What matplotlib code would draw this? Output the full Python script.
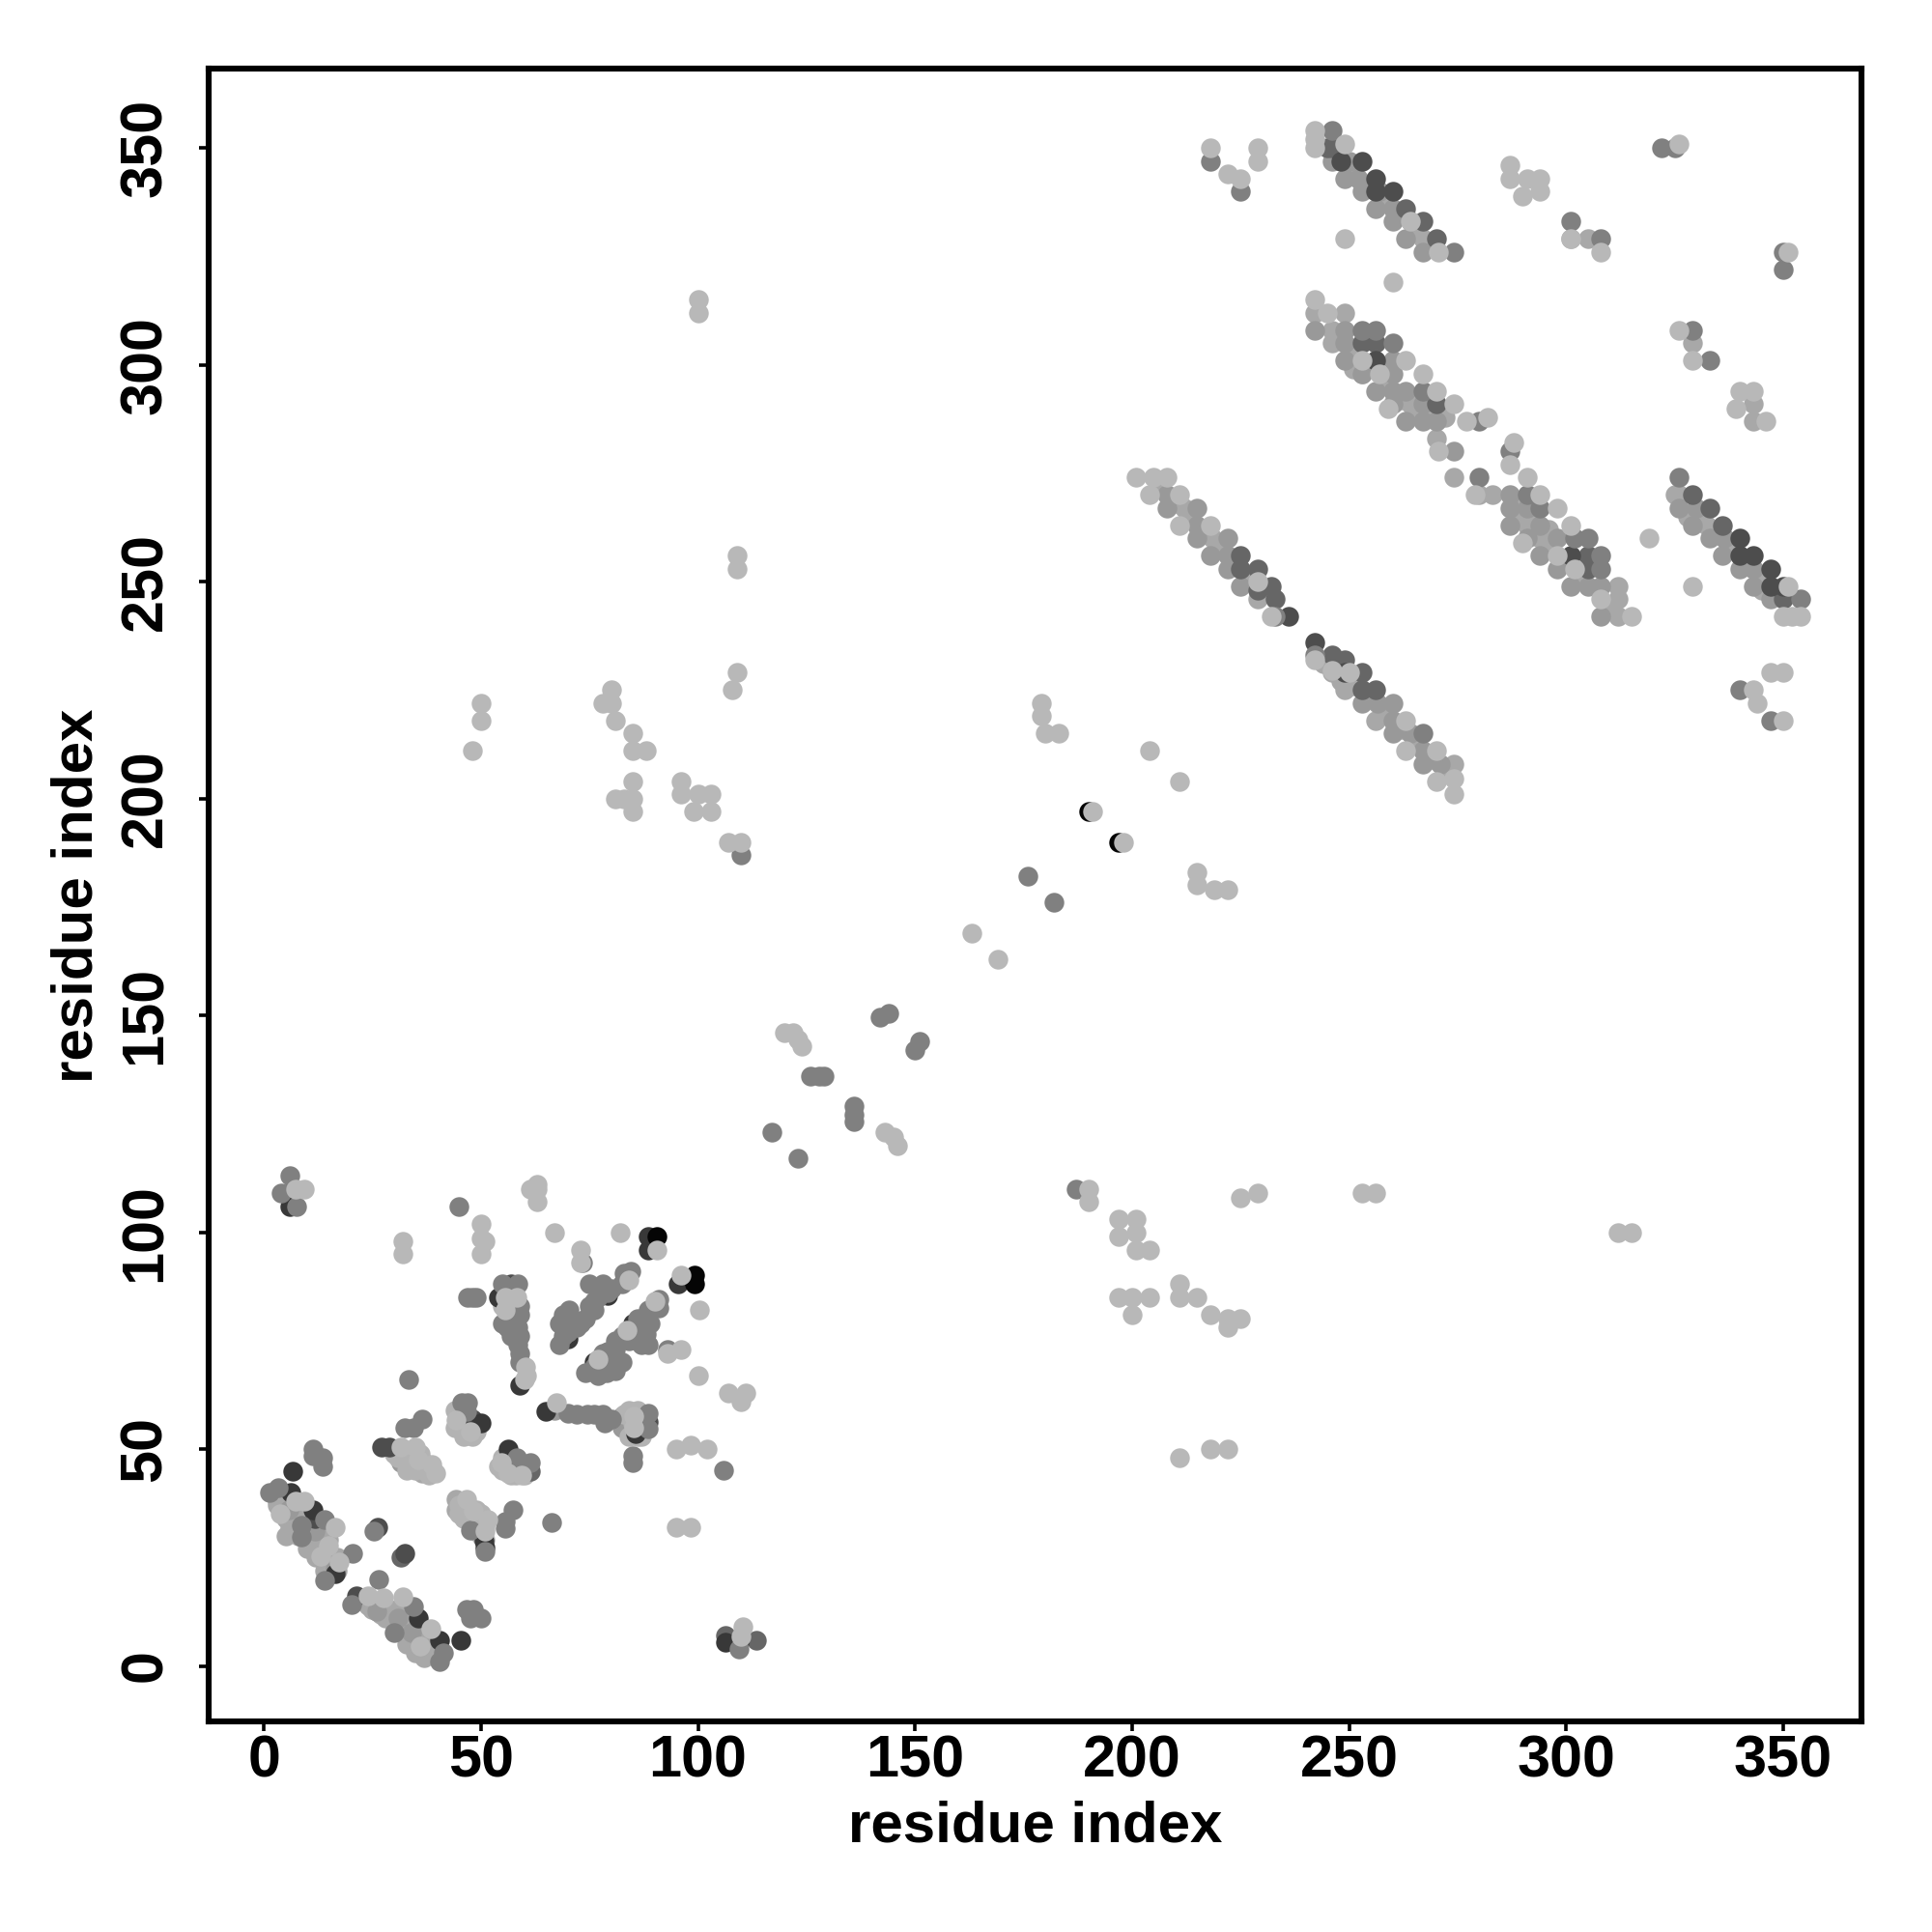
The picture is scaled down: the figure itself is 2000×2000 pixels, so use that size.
import numpy as np
import matplotlib
matplotlib.use('Agg')
import matplotlib.pyplot as plt

plt.rcParams['font.family'] = ['Liberation Sans', 'DejaVu Sans']

# contacts, (residue, residue), grouped by grey level
black_pts = [(90.5, 99), (99.3, 90), (99.3, 88), (190, 197), (197, 190)]

dark2_pts = [(6, 109), (6, 106), (6.6, 44.8), (6.3, 40), (11.3, 36), (16.5, 21.3), (35.6, 11), (40.4, 6),
             (45.3, 5.8), (88.5, 99), (88.5, 96), (95.5, 88), (106.3, 5.5), (109.4, 5.5), (50, 56), (50.7, 28.9),
             (51, 27.3), (65, 58.7), (59, 64.7), (76, 70), (70, 75.4), (79.3, 85.4), (54, 85), (85, 79),
             (85.7, 53.5), (56.3, 50)]

dark3_pts = [(27.2, 50.4), (29, 50.4), (26.3, 32), (32.4, 26), (11.7, 34), (21.3, 16.2), (57, 88), (59.4, 46.4),
             (88.5, 56.3), (48, 57), (236, 242), (242, 236), (347, 253), (347, 249), (253, 347), (248, 347),
             (256, 343), (256, 340), (260, 340), (340, 260), (340, 256), (343, 256), (256, 301), (301, 256),
             (350, 249), (249, 229)]

dark4_pts = [(245, 350), (246, 350), (263, 336), (267, 333), (270, 329), (253, 305), (256, 305), (270, 291),
             (305, 253), (305, 256), (329, 270), (333, 267), (336, 263), (350, 246), (225, 256), (225, 253),
             (229, 253), (232, 249), (233, 246), (246, 233), (249, 232), (253, 229), (253, 225), (256, 225),
             (113.4, 6), (106.3, 7), (31.5, 25), (61.4, 44.8), (229, 248)]

mid_pts = [(246, 354), (274, 326), (322, 350), (325, 350), (301, 333), (308, 329), (350, 326), (350, 322),
           (329, 308), (333, 301), (253, 308), (256, 308), (260, 305), (267, 294), (280, 287), (287, 280),
           (280, 274), (291, 270), (294, 267), (302, 260), (305, 260), (308, 256), (308, 253), (326, 274),
           (354, 246), (218, 347), (225, 340), (340, 225), (347, 218), (233, 242), (242, 233), (267, 215),
           (110, 187), (176, 182), (182, 176), (187, 110), (117, 123), (123, 117), (126, 136), (128, 136),
           (129, 136), (136, 129), (136, 127), (136, 125.5), (142, 149.5), (144, 150.5), (150, 142), (151, 144),
           (6, 113), (4, 109), (7.5, 106), (45, 106), (73.5, 93), (47, 85), (48, 85), (49, 85), (93, 73),
           (85, 48.5), (85, 47), (106, 45), (66.3, 33), (55, 88), (58.6, 88), (58, 82), (56, 78), (58.6, 78),
           (57, 76), (58.5, 74), (59, 70), (70.4, 82), (75, 88), (78, 88), (77, 85), (79.3, 86), (76, 82),
           (82.5, 88), (83, 90.5), (84.5, 91), (68, 79), (71, 78.6), (73, 79), (68, 74), (91, 84.5),
           (88.5, 82), (91, 82.6), (86.5, 78.6), (82.5, 76), (88, 76.6), (88.5, 74), (79.3, 72.6), (82.5, 70),
           (78.5, 70), (74, 67.5), (79, 67.5), (70, 58.3), (74.5, 58), (78, 58), (78.5, 56), (88.5, 58.3),
           (88.5, 54.7), (45.5, 60.7), (47, 60.7), (46.7, 58.7), (58.3, 48), (61.4, 46.8), (32.4, 55), (34.4, 55),
           (36.4, 57), (33.4, 66), (47.5, 31.3), (51, 26.5), (55.5, 33.3), (55.5, 31.7), (57.4, 36), (25.4, 31),
           (20.5, 26), (26.5, 20), (14, 19.7), (11.3, 50), (13.5, 48), (13.5, 46), (11.3, 48.4), (1.4, 40),
           (3.4, 41), (14, 33.7), (8.6, 29.7), (20.3, 14.2), (34.4, 13.8), (30, 7.8), (41.3, 3), (40.4, 1),
           (46.7, 13), (48.3, 13), (47.5, 11), (50, 11), (109.4, 4), (8.6, 32.5),
           # dense patches around residues 55-90
           (56, 84), (57, 82), (57, 80), (59, 83), (59, 81), (58, 80), (59, 76), (57, 77), (55, 79), (59, 72),
           (71, 80), (72, 78), (70, 77), (69, 76), (74, 80), (77, 87), (75, 83),
           (76, 84), (80, 87), (69, 81),
           (81, 75), (84, 75), (86, 75), (87, 74), (80, 69), (78, 72), (76, 69), (81, 68), (77, 67),
           (89, 79), (88, 80), (86, 80), (81, 73), (87, 77),
           (80, 57), (76, 58), (72, 58)]

grey_pts = [(250, 347), (246, 347), (249, 343), (252, 343), (253, 340), (257, 340), (256, 336), (260, 336),
            (260, 333), (263, 329), (267, 326), (242, 308), (249, 308), (249, 305), (249, 301), (260, 301),
            (253, 298), (260, 298), (256, 294), (260, 294), (263, 294), (260, 291), (267, 291), (263, 287),
            (267, 287), (270, 287), (274, 280), (287, 270), (287, 267), (291, 267), (287, 263), (294, 263),
            (291, 260), (298, 260), (294, 256), (298, 253), (301, 249), (305, 249), (308, 249), (308, 242),
            (326, 267), (330, 267), (329, 263), (333, 260), (336.5, 260), (336, 256), (340, 253), (343, 253),
            (343, 249), (347, 246), (208, 270), (208, 267), (215, 267), (215, 263), (215, 260), (222, 260),
            (218, 256), (222, 256), (222, 253), (225, 249), (253, 222), (256.5, 222), (260, 222), (260, 218),
            (260, 215), (264, 215), (267, 211), (267, 208), (271, 208), (5.8, 36), (11.7, 31), (16.5, 22.5),
            (26, 12.6), (30.8, 11), (34, 7.8), (31.6, 46.8), (47.5, 33.3), (82.5, 57.5), (82.5, 55), (67, 59)]

soft_pts = [(242, 312), (264, 333), (267, 329), (249, 312), (246, 308), (253, 298), (264, 291), (270, 283),
            (274, 274), (283, 270), (280, 270), (291, 263), (294, 260), (312, 249), (312, 242), (325, 270),
            (326, 270), (332.5, 263), (336.5, 260), (212, 267), (218.5, 260), (229, 249), (229, 246), (246, 229),
            (249, 225), (256, 218), (329, 305), (343, 291), (343, 287), (32.4, 48.4), (44.3, 38.4), (44.3, 36),
            (36.4, 44.4), (3, 37), (26, 12.6), (312, 246), (274, 208), (301, 329), (305, 329),
            # the two antidiagonal bands near the origin
            (3, 38), (4, 36), (5, 34), (6, 35), (7, 33), (8, 34), (9, 30), (9, 32), (10, 31), (11, 29), (12, 30),
            (12, 27), (13, 28), (14, 26), (14, 24), (15, 25), (16, 23), (16, 25), (17, 22), (6, 32), (5, 30),
            (10, 27), (22, 15), (24, 14), (25, 13), (26, 14), (27, 12), (28, 13), (29, 11), (30, 12), (31, 9),
            (32, 10), (33, 8), (33, 11), (34, 9), (35, 7), (36, 8), (36, 6), (37, 5), (38, 6), (38, 4), (39, 3),
            (39, 5), (40, 3), (37, 3), (35, 4), (7, 36), (8, 30), (10, 33), (11, 33), (13, 31), (15, 29), (15, 22),
            (14, 22), (17, 25), (12, 25), (13, 26), (10, 29), (23, 15), (25, 15), (27, 14), (29, 13), (31, 13),
            (30, 10), (32, 8), (34, 6), (36, 4), (38, 3), (35, 9), (37, 7), (34, 12), (28, 11), (33, 5), (35, 3),
            (37, 2),
            # the long bands at the top right
            (251, 345), (254, 341), (258, 338), (262, 335), (265, 331), (268, 328), (246, 305), (251, 303),
            (254, 299), (258, 296), (262, 292), (265, 289), (268, 289), (272, 288), (251, 299), (289, 265),
            (289, 268), (292, 265), (296, 262), (296, 258), (300, 255), (303, 251), (310, 244), (328, 265),
            (331, 265), (335, 261), (338, 258), (342, 255), (345, 251), (348, 248), (345, 248), (206, 272),
            (210, 268), (213, 265), (217, 261), (220, 258), (224, 254), (227, 251), (244, 231), (248, 227),
            (251, 226), (255, 223), (258, 220), (262, 216), (265, 213), (269, 209), (272, 206)]

pale_pts = [(32, 49), (33, 47), (34, 48), (34, 46), (35, 45), (36, 49), (37, 47), (37, 45), (38, 44), (33, 45),
            (31, 48), (30, 49), (45, 37), (46, 36), (47, 37), (47, 35), (48, 34), (49, 36), (49, 34), (50, 33),
            (50, 35), (50, 32), (51, 32), (46, 34), (45, 35), (49, 31), (49, 32), (50, 30), (51, 29),
            (44, 59), (44, 55), (45, 57), (45, 55), (46, 55), (47, 56), (48, 55), (49, 54), (46, 53), (48, 53),
            (55, 48), (55, 45), (56, 47), (57, 45), (58, 44), (58, 46), (60, 44), (60, 45), (57, 44), (55, 46),
            (54, 46), (56, 48), (59, 47), (55, 83), (83, 58), (85, 56), (86, 53), (87, 57), (84, 53), (84, 59),
            (87, 53), (86, 59)]

light_pts = [(242, 354), (242, 352), (242, 350), (249, 351), (249, 329), (260, 319), (264, 333), (270.5, 326),
             (242, 315), (245, 312), (253, 301), (263, 301), (257, 298), (267, 298), (270, 294), (259, 290),
             (274, 291), (277, 287), (282, 288), (270.5, 280), (288, 282), (287, 277), (291, 274), (279, 270),
             (294, 270), (298, 267), (301, 263), (290, 259), (298, 256), (302, 253), (308, 246), (315, 242),
             (326, 351), (287, 346), (287, 343), (291, 343), (294, 343), (290, 339), (294, 340), (301, 329),
             (308, 326), (351, 326), (326, 308), (329, 301), (340, 294), (343, 294), (339, 290), (346, 287),
             (329, 249), (319, 260), (351, 249), (350, 242), (352, 242), (354, 242), (218, 350),
             (222, 344), (225, 343), (229, 350), (229, 347), (201, 274), (205, 274), (208, 274), (204, 270),
             (211, 270), (211, 263), (218, 263), (232, 242), (229, 250), (242, 232), (246, 229.5), (250, 229),
             (263, 218), (263, 211), (270, 211), (270, 204), (274, 204.5), (274, 201), (343, 225), (344, 222),
             (347, 229), (350, 229), (350, 218), (50, 222), (50, 218), (48, 211), (80, 225), (78, 222), (80, 222),
             (81, 218), (85, 215), (85, 211), (88, 211), (85, 204), (81, 200), (83, 200), (85, 200), (85, 197),
             (96, 204), (96, 201), (100, 201), (103, 201), (99, 197), (103, 197), (107, 190), (110, 190),
             (109, 229), (108, 225), (109, 256), (109, 253), (100, 315), (100, 312), (179, 222), (179, 219),
             (180, 215), (183, 215), (204, 211), (211, 204), (191, 197), (198, 190), (215, 183), (215, 180),
             (219, 179), (222, 179), (163, 169), (169, 163), (120, 146), (122, 146), (123, 144.5), (124, 143),
             (143, 123), (145, 122), (146, 120), (190, 110), (190, 107), (197, 103), (201, 103), (197, 99),
             (201, 100), (201, 96), (204, 96), (197, 85), (200, 85), (204, 85), (200, 81), (211, 88), (211, 85),
             (215, 85), (218, 81), (222, 80), (225, 80), (222, 78), (225, 108), (229, 109), (253, 109), (256, 109),
             (312, 100), (315, 100), (211, 48), (218, 50), (222, 50), (7.4, 110), (9.4, 110), (50, 102), (50, 98.5),
             (51, 98), (50, 95), (32, 98), (32, 95), (61.5, 110), (63, 111), (63, 110), (63, 107), (67, 100),
             (82, 100), (73, 96), (73, 93), (90.5, 96), (96, 90), (100.4, 82), (93, 72), (96, 73), (100, 67),
             (107, 63), (111, 63), (110, 61), (95, 50), (98.4, 51), (102, 50), (95, 32), (98.4, 32), (55.5, 85),
             (58.3, 85), (55.5, 82), (60.6, 67), (60, 66), (60.2, 69), (84, 89), (90, 84), (83.7, 77.4),
             (77, 70.7), (67.4, 60.7), (85.3, 57.5), (85.3, 55), (44.3, 56.7), (47.5, 54), (54.7, 47),
             (56.3, 44.4), (59.4, 44), (31.6, 50.4), (35, 50.4), (35.6, 47.6), (38.8, 46.4), (39.6, 44.4),
             (46.7, 38.4), (48.3, 35.7), (51.5, 33.7), (51, 31), (3.8, 35), (7.4, 38), (9.4, 38), (16.4, 32),
             (15, 27.7), (13, 25.3), (17.3, 24), (24, 16.2), (27.6, 15.8), (32, 16), (38.4, 8.6), (36, 4.6),
             (110.3, 9), (110, 6.7)]

# draw order, back to front
layers = [(soft_pts, '0.66'), (grey_pts, '0.60'), (pale_pts, '0.70'), (dark4_pts, '0.40'), (dark3_pts, '0.30'),
          (dark2_pts, '0.22'), (black_pts, '0.02'), (mid_pts, '0.50'), (light_pts, '0.72')]

xticks = [0, 50, 100, 150, 200, 250, 300, 350]
yticks = [0, 50, 100, 150, 200, 250, 300, 350]

fig = plt.figure(figsize=(10, 10), dpi=200)
ax = fig.add_axes([216/2000, 1-1782/2000, (1927-216)/2000, (1782-71)/2000])

for pts, col in layers:
    p = np.array(pts)
    ax.scatter(p[:, 0], p[:, 1], s=54, c=col, linewidths=0)

ax.set_xlim(-12.7, 368)
ax.set_ylim(-12.8, 368.3)
ax.set_xticks(xticks)
ax.set_yticks(yticks)
ax.tick_params(direction='out', length=3.5, width=1.3, labelsize=22, pad=1.5)
ax.tick_params(axis='y', pad=9.5)
for lab in ax.get_xticklabels():
    lab.set_fontweight('bold')
for lab in ax.get_yticklabels():
    lab.set_fontweight('bold')
    lab.set_rotation(90)
    lab.set_va('center')
for s in ax.spines.values():
    s.set_linewidth(2.2)

fig.text(1072/2000, 1-1891/2000, 'residue index', fontsize=21.6, fontweight='bold', ha='center', va='center')
fig.text(80/2000, 1-927/2000, 'residue index', fontsize=21.6, fontweight='bold', ha='center', va='center',
         rotation=90)

fig.savefig('out.png', dpi=200)
